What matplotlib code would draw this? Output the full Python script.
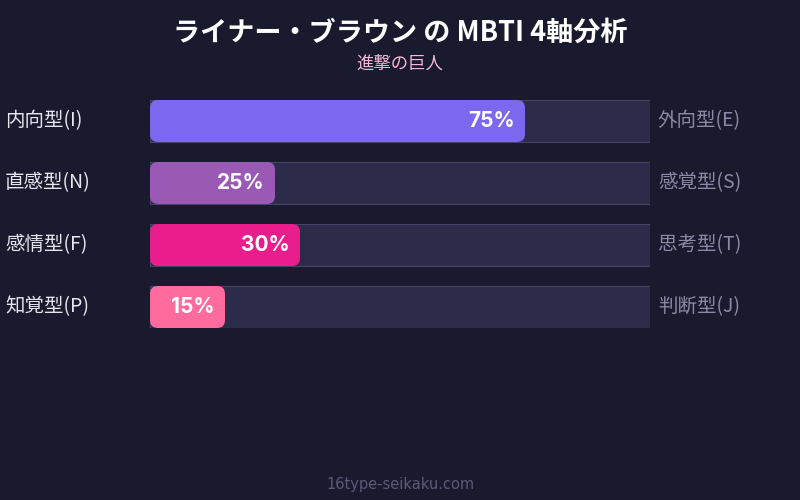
import matplotlib
matplotlib.use("Agg")
import matplotlib.pyplot as plt
from matplotlib.patches import FancyBboxPatch

plt.rcParams['font.family'] = ['Noto Sans CJK JP', 'DejaVu Sans']

title = "ライナー・ブラウン の MBTI 4軸分析"
subtitle = "進撃の巨人"
left_labels = ["内向型(I)", "直感型(N)", "感情型(F)", "知覚型(P)"]
right_labels = ["外向型(E)", "感覚型(S)", "思考型(T)", "判断型(J)"]
values = [75, 25, 30, 15]
colors = ["#7b68ee", "#9b59b6", "#e91e8c", "#ff6b9d"]
footer = "16type-seikaku.com"

bg = "#1a1a2e"
W, H = 800, 500
fig = plt.figure(figsize=(8, 5), dpi=100, facecolor=bg)

# bar area: x 150..650 px, y 100..328 px
bar_h = 42 / 62
ax = fig.add_axes([150 / W, 1 - 328 / H, 500 / W, 228 / H])
ax.set_facecolor("none")
ax.set_xlim(0, 100)
ax.set_ylim(len(values) - 1 + bar_h / 2, -bar_h / 2)
ax.axis("off")

rows = list(range(len(values)))
ax.barh(rows, [100] * len(values), height=bar_h, left=0,
        color="#2d2b4a", edgecolor="#45456a", linewidth=0.8, zorder=1)

# x units: 5 px per unit, y units: 62 px per unit
aspect = 5 / 62
for i, (v, c) in enumerate(zip(values, colors)):
    p = FancyBboxPatch((0, i - bar_h / 2), v, bar_h,
                       boxstyle="round,pad=0,rounding_size=1.6",
                       mutation_aspect=aspect, facecolor=c,
                       edgecolor="none", zorder=2)
    ax.add_patch(p)
    ax.text(v - 2, i, f"{v}%", ha="right", va="center", color="white",
            fontsize=15, fontweight="bold", family=["Inter", "DejaVu Sans"], zorder=3)
    ax.text(-29, i, left_labels[i], ha="left", va="center",
            color="#e6e6ee", fontsize=14, clip_on=False)
    ax.text(101.6, i, right_labels[i], ha="left", va="center",
            color="#8a8aa6", fontsize=14, clip_on=False)

fig.text(0.5, 1 - 33 / H, title, ha="center", va="center",
         color="white", fontsize=19.5, fontweight="bold")
fig.text(0.5, 1 - 64 / H, subtitle, ha="center", va="center",
         color="#f4b8d8", fontsize=12.5)
fig.text(0.5, 1 - 484 / H, footer, ha="center", va="center",
         color="#5a5a7a", fontsize=10.5, family=["DejaVu Sans"])

fig.savefig("out.png", dpi=100, facecolor=bg)
